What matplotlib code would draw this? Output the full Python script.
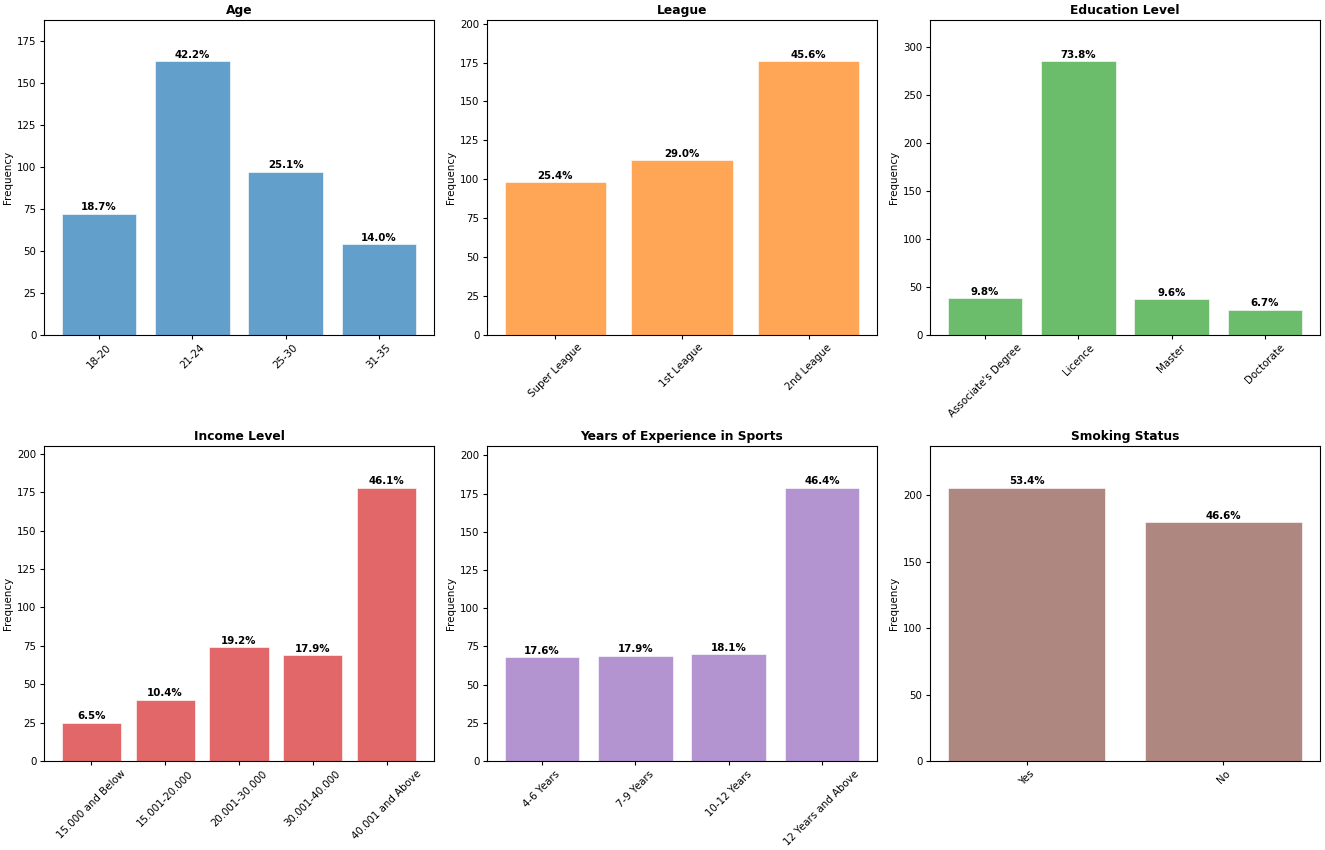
import matplotlib.pyplot as plt
import numpy as np

age_labels = ['18-20', '21-24', '25-30', '31-35']
age_counts = [72, 163, 97, 54]

league_labels = ['Super League', '1st League', '2nd League']
league_counts = [98, 112, 176]

edu_labels = ["Associate's Degree", 'Licence', 'Master', 'Doctorate']
edu_counts = [38, 285, 37, 26]

income_labels = ['15.000 and Below', '15.001-20.000', '20.001-30.000', '30.001-40.000', '40.001 and Above']
income_counts = [25, 40, 74, 69, 178]

exp_labels = ['4-6 Years', '7-9 Years', '10-12 Years', '12 Years and Above']
exp_counts = [68, 69, 70, 179]

smoke_labels = ['Yes', 'No']
smoke_counts = [206, 180]

panels = [
    ('Age', age_labels, age_counts, '#1f77b4'),
    ('League', league_labels, league_counts, '#ff7f0e'),
    ('Education Level', edu_labels, edu_counts, '#2ca02c'),
    ('Income Level', income_labels, income_counts, '#d62728'),
    ('Years of Experience in Sports', exp_labels, exp_counts, '#9467bd'),
    ('Smoking Status', smoke_labels, smoke_counts, '#8c564b'),
]

fig, axes = plt.subplots(2, 3, figsize=(13.25, 8.5), dpi=100)
plt.subplots_adjust(left=0.0332, right=0.9962, top=0.9765, bottom=0.1047, wspace=0.136, hspace=0.356)

for ax, (title, labels, counts, color) in zip(axes.flat, panels):
    total = sum(counts)
    x = np.arange(len(labels))
    bars = ax.bar(x, counts, color=color, alpha=0.7, edgecolor='white', linewidth=0.6)
    for b, c in zip(bars, counts):
        ax.text(b.get_x() + b.get_width() / 2, c + max(counts) * 0.005, f'{c / total * 100:.1f}%',
                ha='center', va='bottom', fontsize=7.4, fontweight='bold')
    ax.set_xticks(x)
    ax.set_xticklabels(labels, rotation=45)
    ax.set_ylim(0, max(counts) * 1.15)
    ax.set_title(title, fontsize=8.8, fontweight='bold', pad=4.5)
    ax.set_ylabel('Frequency', fontsize=7.4, labelpad=3)
    ax.tick_params(labelsize=7.4, length=3, pad=2.5)

plt.savefig('out.png')
